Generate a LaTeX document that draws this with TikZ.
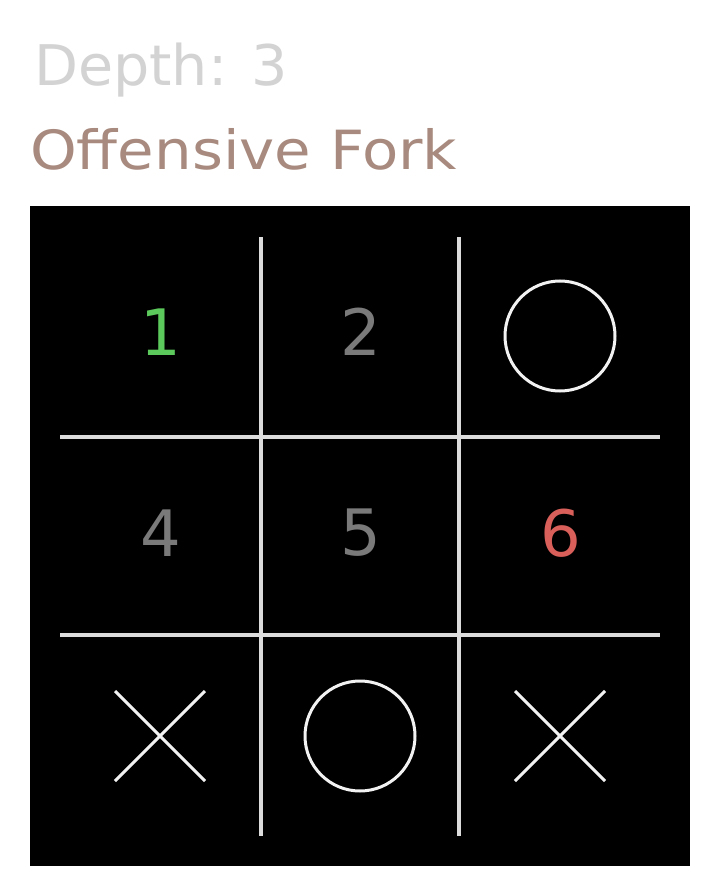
\documentclass[tikz,border=0pt]{standalone}
\usepackage{fontspec}
\setmainfont{DejaVu Sans}
\definecolor{gridc}{HTML}{DCDCDC}
\definecolor{depthc}{HTML}{D3D3D3}
\definecolor{titlec}{HTML}{A88A7E}
\definecolor{greenc}{HTML}{5CC95C}
\definecolor{grayc}{HTML}{7A7A7A}
\definecolor{redc}{HTML}{D9605A}
\begin{document}
\begin{tikzpicture}[x=1pt,y=-1pt,
  gridline/.style={draw=gridc,line width=4pt},
  piece/.style={draw=white!95!black,line width=3pt},
  numc/.style={font=\fontsize{64}{64}\selectfont,inner sep=0pt},
  hdr/.style={anchor=base west,inner sep=0pt}]
\useasboundingbox (0,0) rectangle (720,896);
\fill[white] (0,0) rectangle (720,896);
\node[hdr,text=depthc,font=\fontsize{56}{56}\selectfont] (depth) at (34,86) {\scalebox{1.02}[1]{Depth: 3}};
\node[hdr,text=titlec,font=\fontsize{54}{54}\selectfont] (title) at (30,170) {\scalebox{1.10}[1]{Offensive Fork}};
\fill[black] (30,206) rectangle (690,866);
\draw[gridline] (261,237) -- (261,836);
\draw[gridline] (459,237) -- (459,836);
\draw[gridline] (60,437) -- (660,437);
\draw[gridline] (60,635) -- (660,635);
\node[numc,text=greenc] (c1) at (161,332) {1};
\node[numc,text=grayc] (c2) at (361,332) {2};
\draw[piece] (560,336) circle (55);
\node[numc,text=grayc] (c4) at (161,533) {4};
\node[numc,text=grayc] (c5) at (361,533) {5};
\node[numc,text=redc] (c6) at (561,533) {6};
\draw[piece] (115,691) -- (205,781) (205,691) -- (115,781);
\draw[piece] (360,736) circle (55);
\draw[piece] (515,691) -- (605,781) (605,691) -- (515,781);
\end{tikzpicture}
\end{document}
